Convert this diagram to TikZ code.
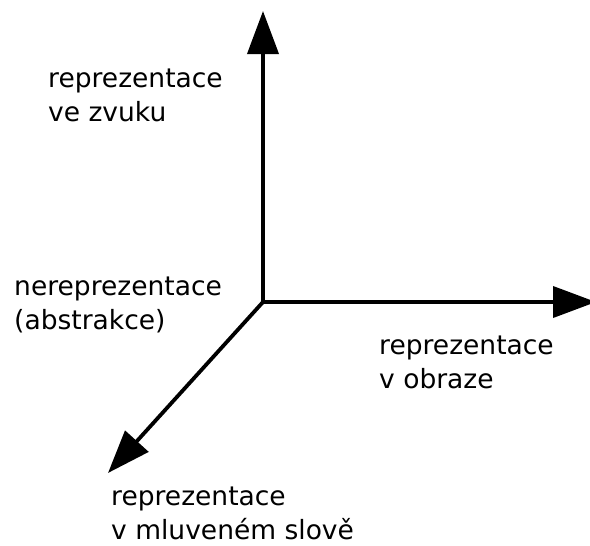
\documentclass[tikz,border=0pt]{standalone}
\usepackage{fontspec}
\setmainfont{DejaVu Sans}
\usetikzlibrary{arrows.meta}
\begin{document}
\begin{tikzpicture}[x=1pt,y=-1pt,
  axis/.style={line width=3.8pt,-{Triangle[length=43pt,width=31pt]}},
  lbl/.style={anchor=base west,inner sep=0pt,align=left,font=\fontsize{26.5}{34}\selectfont}]
\useasboundingbox (0,0) rectangle (590,546);
\coordinate (o) at (263,302);
\coordinate (up) at (263,11);
\coordinate (rt) at (596,302);
\coordinate (dl) at (108,473);
\draw[axis,line cap=rect] (o) -- (up);
\draw[axis] (o) -- (rt);
\draw[axis] (o) -- (dl);
\node[lbl] (zvuk) at (48,121) {reprezentace\\ve zvuku};
\node[lbl] (abs) at (14,329) {nereprezentace\\(abstrakce)};
\node[lbl] (obr) at (379,388) {reprezentace\\v obraze};
\node[lbl] (slovo) at (111,539) {reprezentace\\v mluveném slově};
\end{tikzpicture}
\end{document}
